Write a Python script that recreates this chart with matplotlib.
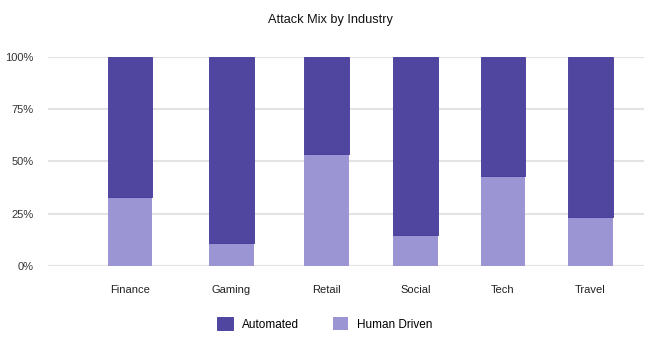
import matplotlib.pyplot as plt
from matplotlib.patches import Patch

# attack mix per industry, share of traffic
industries = ["Finance", "Gaming", "Retail", "Social", "Tech", "Travel"]
human_driven = [0.33, 0.107, 0.533, 0.145, 0.429, 0.232]
automated = [1 - h for h in human_driven]
y_ticks = [0, 0.25, 0.5, 0.75, 1.0]
y_labels = ["0%", "25%", "50%", "75%", "100%"]

# layout
bar_pos = [130, 231.5, 326.5, 415.5, 503, 590.5]
bar_w = 44.5
dark = "#5046a0"
light = "#9b96d3"

plt.rcParams["font.family"] = ["Liberation Sans", "DejaVu Sans"]

fig = plt.figure(figsize=(6.5, 3.44), dpi=100)
ax = fig.add_axes([48 / 650, 1 - 265.7 / 344, 596 / 650, 208.7 / 344])

ax.bar(bar_pos, human_driven, width=bar_w, color=light, zorder=3)
ax.bar(bar_pos, automated, bottom=human_driven, width=bar_w, color=dark,
       edgecolor="#43389a", linewidth=0.6, zorder=3)

ax.set_xlim(48, 644)
ax.set_ylim(0, 1)
ax.set_yticks(y_ticks)
ax.set_yticklabels(y_labels, fontsize=8, color="#333333")
ax.set_xticks(bar_pos)
ax.set_xticklabels(industries, fontsize=8, color="#222222")
ax.tick_params(axis="both", length=0)
ax.tick_params(axis="x", pad=14)
ax.tick_params(axis="y", pad=10.5)

ax.yaxis.grid(True, color="#e3e3e3", linewidth=1.5, zorder=0)
ax.set_axisbelow(True)
for s in ax.spines.values():
    s.set_visible(False)

fig.text(0.508, 1 - 20 / 344, "Attack Mix by Industry", ha="center", va="center",
         fontsize=9.2, color="#111111")

handles = [Patch(facecolor=dark, edgecolor="#43389a", linewidth=0.6, label="Automated"),
           Patch(facecolor=light, label="Human Driven")]
fig.legend(handles=handles, loc="center", bbox_to_anchor=(0.5, 1 - 324 / 344),
           ncol=2, frameon=False, fontsize=8.5, handlelength=1.3, handleheight=1.3,
           handletextpad=0.75, columnspacing=2.9)

fig.savefig("out.png", dpi=100)
